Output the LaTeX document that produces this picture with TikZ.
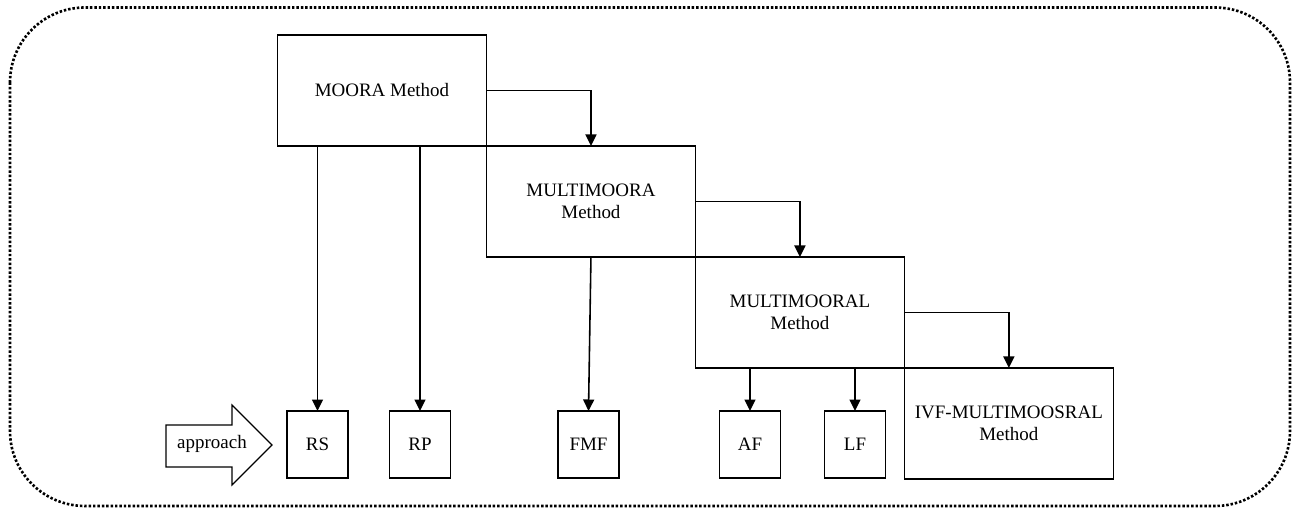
\documentclass[tikz,border=0pt]{standalone}
\usepackage{fontspec}
\setmainfont{Liberation Serif}
\usepackage{tikz}
\usetikzlibrary{shapes,arrows,arrows.meta,fit,positioning}

\tikzset{
  method/.style={draw, line width=0.7pt, outer sep=0pt, minimum width=4.18cm,
    minimum height=2.22cm, align=center, inner sep=2pt},
  factor/.style={draw, line width=0.7pt, outer sep=0pt, minimum width=1.22cm,
    minimum height=1.34cm, inner sep=1pt},
  link/.style={line width=0.9pt, -{Triangle[length=0.23cm,width=0.22cm]}},
}

\begin{document}
\begin{tikzpicture}[x=0.02cm, y=-0.02cm, font=\fontsize{10.8pt}{12.4pt}\selectfont]
\useasboundingbox (0,0) rectangle (1292,510);
\draw[line width=1.5pt, dash pattern=on 1.4pt off 1.1pt, rounded corners=1.5cm]
  (10,7.5) rectangle (1290,506);

\node[method] (moora) at (382,90.5) {MOORA Method};
\node[method, anchor=north west] (multimoora) at (moora.south east) {MULTIMOORA\\Method};
\node[method, anchor=north west] (multimooral) at (multimoora.south east) {MULTIMOORAL\\Method};
\node[method, anchor=north west] (ivf) at (multimooral.south east) {IVF-MULTIMOOSRAL\\Method};

\node[factor] (rs) at (317.5,444.5) {RS};
\node[factor] (rp) at (420,444.5) {RP};
\node[factor] (fmf) at (588.5,444.5) {FMF};
\node[factor] (af) at (750,444.5) {AF};
\node[factor] (lf) at (855,444.5) {LF};

\draw[line width=0.7pt] (166,425) -- (232,425) -- (232,405) -- (272,445)
  -- (232,485) -- (232,467) -- (166,467) -- cycle;
\node (approach) at (212,444) {approach};

\draw[link] (moora.east) -| (multimoora.north);
\draw[link] (multimoora.east) -| (multimooral.north);
\draw[link] (multimooral.east) -| (ivf.north);

\draw[link] (rs.north |- moora.south) -- (rs.north);
\draw[link] (rp.north |- moora.south) -- (rp.north);
\draw[link] (multimoora.south) -- (fmf.north);
\draw[link] (af.north |- multimooral.south) -- (af.north);
\draw[link] (lf.north |- multimooral.south) -- (lf.north);
\end{tikzpicture}
\end{document}
